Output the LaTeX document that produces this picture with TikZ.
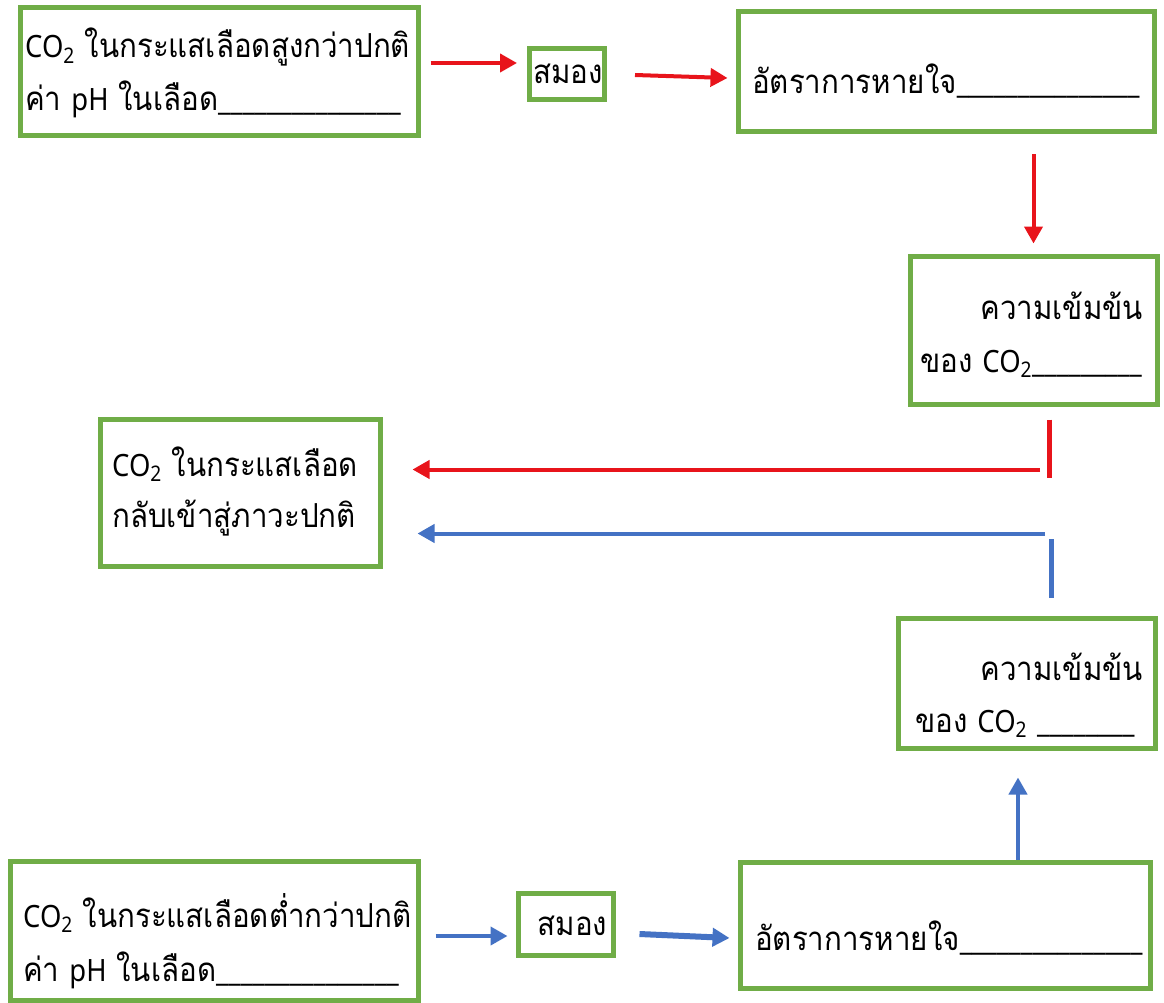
\documentclass[tikz,border=0pt]{standalone}
\usepackage{fontspec}
\usepackage{graphicx}
\usetikzlibrary{arrows.meta,calc}
\newfontfamily\thai[Script=Thai]{Loma}
\newfontfamily\lat[Scale=0.93]{Noto Sans}
\definecolor{gbox}{HTML}{70AD47}
\definecolor{rarr}{HTML}{E8141B}
\definecolor{barr}{HTML}{4472C4}
\newcommand\COtwo{{\lat CO\textsubscript{2}}}
\newcommand\blk[1]{{\lat\foreach \i in {1,...,#1}{\_}}}
\newcommand\tall[1]{\scalebox{1}[1.12]{#1}}
\tikzset{
  x=1pt, y=-1pt,
  box/.style={draw=gbox, line width=5pt, fill=white, inner sep=0pt},
  txt/.style={inner sep=0pt, font=\thai\fontsize{29.5}{36}\selectfont},
  rarrow/.style={draw=rarr, line width=4pt, -{Triangle[length=17pt,width=18pt]}},
  rbar/.style={draw=rarr, line width=5pt},
  barrow/.style={draw=barr, line width=4pt, -{Triangle[length=17pt,width=18pt]}},
  bbar/.style={draw=barr, line width=5pt},
}
\begin{document}
\begin{tikzpicture}
\useasboundingbox[fill=white] (0,0) rectangle (1164,1003);
% boxes
\node[box, minimum width=75pt, minimum height=51pt] (B) at (567,74) {};
\node[box, minimum width=398pt, minimum height=128pt] (A) at (219,72) {};
\node[box, minimum width=416pt, minimum height=120pt] (C) at (946,72) {};
\node[box, minimum width=247pt, minimum height=148pt] (D) at (1033.5,330) {};
\node[box, minimum width=280pt, minimum height=147pt] (E) at (240,492.5) {};
\node[box, minimum width=257pt, minimum height=130pt] (F) at (1026.5,683) {};
\node[box, minimum width=408pt, minimum height=139pt] (G) at (214,930.5) {};
\node[box, minimum width=95pt, minimum height=62pt] (H) at (565.5,924) {};
\node[box, minimum width=410pt, minimum height=126pt] (I) at (945,925) {};
% texts
\node[txt, anchor=base] (B1) at ($(B.center)+(1,10)$) {\tall{สมอง}};
\node[txt, anchor=base] (H1) at ($(H.center)+(7,11)$) {\tall{สมอง}};
\node[txt, anchor=base west] (A1) at (25,58) {\tall{\COtwo{} ในกระแสเลือดสูงกว่าปกติ}};
\node[txt, anchor=base west] (A2) at (25,111) {\tall{ค่า {\lat pH} ในเลือด\blk{15}}};
\node[txt, anchor=base west] (C1) at (752,94) {\tall{อัตราการหายใจ\blk{15}}};
\node[txt, anchor=base east] (D1) at (1143,319) {\tall{ความเข้มข้น}};
\node[txt, anchor=base west] (D2) at (920,372) {\tall{ของ \COtwo\blk{9}}};
\node[txt, anchor=base west] (E1) at (112,476) {\tall{\COtwo{} ในกระแสเลือด}};
\node[txt, anchor=base west] (E2) at (112,527) {\tall{กลับเข้าสู่ภาวะปกติ}};
\node[txt, anchor=base east] (F1) at (1143,680) {\tall{ความเข้มข้น}};
\node[txt, anchor=base west] (F2) at (915,732) {\tall{ของ \COtwo{} \blk{8}}};
\node[txt, anchor=base west] (G1) at (23,927) {\tall{\COtwo{} ในกระแสเลือดต่ำกว่าปกติ}};
\node[txt, anchor=base west] (G2) at (23,981) {\tall{ค่า {\lat pH} ในเลือด\blk{15}}};
\node[txt, anchor=base west] (I1) at (755,950) {\tall{อัตราการหายใจ\blk{15}}};
% red path
\draw[rarrow] ($(A.east)+(10,-9)$) -- ($(B.west)+(-10,-11)$);
\draw[rarrow] ($(B.east)+(28,1)$) -- ($(C.west)+(-8,6)$);
\draw[rarrow] ([yshift=-20pt]C.south -| D.north) -- ([yshift=10pt]D.north);
\draw[rbar] ($(D.south)+(15.5,13)$) -- ++(0,58);
\coordinate (r5s) at ($(D.south)+(6.5,63)$);
\draw[rarrow] (r5s) -- ([xshift=30pt]E.east |- r5s);
% blue path
\coordinate (b1s) at ($(F.north)+(18.5,-82)$);
\draw[barrow] (b1s) -- ([xshift=35pt]E.east |- b1s);
\draw[bbar] ($(F.north)+(24.5,-18)$) -- ++(0,-59);
\coordinate (b3s) at ($(I.north)+(73,0)$);
\draw[barrow, shorten >=27pt] (b3s) -- (b3s |- F.south);
\draw[barrow] ($(G.east)+(15,5.5)$) -- ($(H.west)+(-8,12)$);
\draw[barrow, line width=6pt] ($(H.east)+(24,10)$) -- ($(I.west)+(-8,13)$);
\end{tikzpicture}
\end{document}
